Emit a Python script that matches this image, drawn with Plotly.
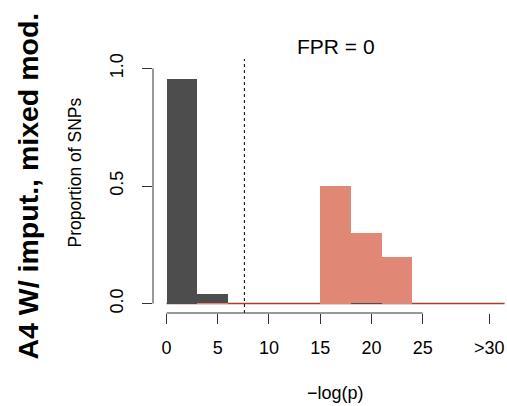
import plotly.graph_objects as go

# ---- data ----
bin_centers = [1.5, 4.5, 7.5, 10.5, 13.5, 16.5, 19.5, 22.5, 25.5, 28.5, 31.5]
bin_width = 3
null_props = [0.955, 0.04, 0, 0, 0, 0, 0.004, 0, 0, 0, 0]      # dark grey
causal_props = [0, 0.004, 0, 0, 0, 0.5, 0.3, 0.2, 0, 0, 0]     # salmon
x_tickvals = [0, 5, 10, 15, 20, 25, 31.5]
x_ticktext = ["0", "5", "10", "15", "20", "25", ">30"]
y_tickvals = [0, 0.5, 1.0]
y_ticktext = ["0.0", "0.5", "1.0"]
threshold = 7.6
x_data_max = 33

panel_title = "FPR = 0"
row_title = "A4 W/ imput., mixed mod."
x_title = "\u2212log(p)"
y_title = "Proportion of SNPs"

# ---- styles ----
C_NULL = "#4D4D4D"
C_CAUSAL = "#E08776"
C_BASE = "#B03A2E"
FONT = "Liberation Sans, Arial, Helvetica, sans-serif"

# per bin: taller bar behind, shorter in front
back_vals, back_cols, front_vals, front_cols = [], [], [], []
for n, c in zip(null_props, causal_props):
    if n >= c:
        back_vals.append(n); back_cols.append(C_NULL)
        front_vals.append(c); front_cols.append(C_CAUSAL)
    else:
        back_vals.append(c); back_cols.append(C_CAUSAL)
        front_vals.append(n); front_cols.append(C_NULL)

fig = go.Figure()
fig.add_trace(go.Bar(x=bin_centers, y=back_vals, width=[bin_width] * len(bin_centers),
                     marker=dict(color=back_cols, line=dict(width=0)), hoverinfo="skip"))
fig.add_trace(go.Bar(x=bin_centers, y=front_vals, width=[bin_width] * len(bin_centers),
                     marker=dict(color=front_cols, line=dict(width=0)), hoverinfo="skip"))

# baseline at zero
fig.add_shape(type="line", xref="x", yref="y", x0=0, x1=x_data_max, y0=0, y1=0,
              line=dict(color=C_BASE, width=1.5), layer="below")
# threshold
fig.add_shape(type="line", xref="x", yref="paper", x0=threshold, x1=threshold, y0=0, y1=1,
              line=dict(color="black", width=1, dash="3px,3px"))
# R-style axis lines spanning the ticks only
fig.add_shape(type="line", xref="x", yref="paper", x0=0, x1=25, y0=0, y1=0,
              line=dict(color="#333333", width=1))
fig.add_shape(type="line", xref="paper", yref="y", x0=0, x1=0, y0=0, y1=1.0,
              line=dict(color="#333333", width=1))

pad_x = 0.04 * x_data_max
fig.update_layout(
    width=507, height=406, autosize=False,
    margin=dict(l=153, r=0, t=59, b=93, pad=0),
    paper_bgcolor="white", plot_bgcolor="white",
    barmode="overlay", bargap=0, showlegend=False,
    font=dict(family=FONT, size=18, color="black"),
    xaxis=dict(range=[-pad_x, (507 - 153) / 10.245 - pad_x], showgrid=False, zeroline=False,
               showline=False, tickmode="array", tickvals=x_tickvals, ticktext=x_ticktext,
               ticks="outside", ticklen=10, tickwidth=1, tickcolor="#333333",
               tickfont=dict(size=18), ticklabelstandoff=8),
    yaxis=dict(range=[-0.04, 1.04], showgrid=False, zeroline=False, showline=False,
               tickmode="array", tickvals=y_tickvals, ticktext=y_ticktext,
               ticks="outside", ticklen=10, tickwidth=1, tickcolor="#333333",
               tickangle=-90, tickfont=dict(size=18), ticklabelstandoff=12),
)

mid_x = x_data_max / 2
fig.add_annotation(text=panel_title, xref="x", yref="paper", x=mid_x, y=1, yshift=13,
                   xanchor="center", yanchor="middle", showarrow=False,
                   font=dict(size=21, family=FONT))
fig.add_annotation(text=x_title, xref="x", yref="paper", x=mid_x, y=0, yshift=-80,
                   xanchor="center", yanchor="middle", showarrow=False,
                   font=dict(size=18, family=FONT))
fig.add_annotation(text=y_title, xref="paper", yref="paper", x=0, y=0.553, xshift=-78,
                   xanchor="center", yanchor="middle", textangle=-90, showarrow=False,
                   font=dict(size=17.5, family=FONT))
fig.add_annotation(text="<b>" + row_title + "</b>", xref="paper", yref="paper", x=0, y=0.498,
                   xshift=-125, xanchor="center", yanchor="middle", textangle=-90,
                   showarrow=False, font=dict(size=28.5, family=FONT))

# remove the default page margin so the 507x406 figure fills the window exactly
fig.write_html("out.html",
               config={"displayModeBar": False, "staticPlot": True},
               post_script="document.body.style.margin='0';"
                           "document.body.style.overflow='hidden';")
